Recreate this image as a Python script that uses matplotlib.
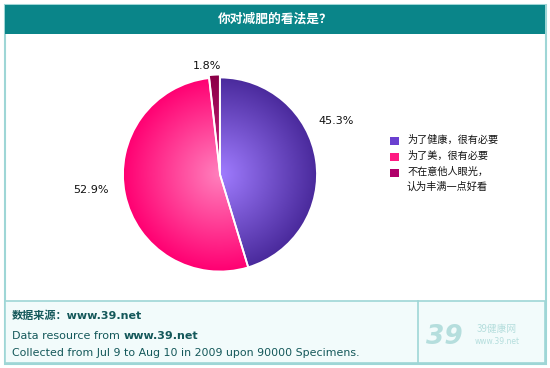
import numpy as np
import matplotlib
matplotlib.use("Agg")
import matplotlib.pyplot as plt
from matplotlib.patches import Rectangle
from matplotlib.colors import LinearSegmentedColormap

title = "你对减肥的看法是？"
categories = ["为了健康，很有必要", "为了美，很有必要", "不在意他人眼光，\n认为丰满一点好看"]
values = [45.3, 52.9, 1.8]
value_labels = ["45.3%", "52.9%", "1.8%"]
footer_lines = ["数据来源：www.39.net", "Data resource from ", "www.39.net",
                "Collected from Jul 9 to Aug 10 in 2009 upon 90000 Specimens."]

inner_cols = ["#a07cff", "#ff80bd", "#d0207f"]
outer_cols = ["#4a2a9c", "#ff0072", "#8c0048"]
legend_cols = ["#6a40d0", "#ff1a82", "#b0006a"]

W, H = 550, 368
fig = plt.figure(figsize=(W / 100, H / 100), dpi=100)
fam = ["Noto Sans CJK SC", "DejaVu Sans"]
plt.rcParams["font.family"] = fam

# overlay axes in pixel coords
ov = fig.add_axes([0, 0, 1, 1])
ov.set_xlim(0, W)
ov.set_ylim(H, 0)
ov.axis("off")

border = "#9ed6d6"
ov.add_patch(Rectangle((4.5, 4.5), 541, 359, facecolor="white", edgecolor=border, lw=1.5, zorder=0))
ov.add_patch(Rectangle((5, 5), 540, 29, facecolor="#0a8589", edgecolor="none", zorder=1))
ov.add_patch(Rectangle((5, 301), 540, 62, facecolor="#f2fbfb", edgecolor=border, lw=1.2, zorder=1))
ov.plot([418, 418], [301, 363], color=border, lw=1.2, zorder=2)
ov.text(275, 19.5, title, color="white", fontsize=9.2, fontweight="bold",
        ha="center", va="center", zorder=3)

# legend
leg_y = [141, 157, 173]
for c, lab, y in zip(legend_cols, categories, leg_y):
    ov.add_patch(Rectangle((390, y - 4.5), 8.5, 8.5, facecolor=c, edgecolor="none", zorder=3))
    ov.text(407, y - 6.5, lab, fontsize=7.3, color="#111111", ha="left", va="top",
            linespacing=1.55, zorder=3)

# footer
tc = "#14585a"
ov.text(12, 316, footer_lines[0], fontsize=8, fontweight="bold", color=tc,
        ha="left", va="center", family=["DejaVu Sans", "Noto Sans CJK SC"], zorder=3)
ov.text(12, 336, footer_lines[1], fontsize=8, color=tc, ha="left", va="center",
        family="DejaVu Sans", zorder=3)
ov.text(124, 336, footer_lines[2], fontsize=8, fontweight="bold", color=tc, ha="left",
        va="center", family="DejaVu Sans", zorder=3)
ov.text(12, 353, footer_lines[3], fontsize=7.9, color=tc, ha="left", va="center",
        family="DejaVu Sans", zorder=3)

# logo
lc = "#b5dedd"
ov.text(426, 337, "39", fontsize=19, fontweight="bold", fontstyle="italic", color=lc,
        ha="left", va="center", family="DejaVu Sans", zorder=3)
ov.text(497, 329, "39健康网", fontsize=7, color=lc, ha="center", va="center", zorder=3)
ov.text(497, 342, "www.39.net", fontsize=5.5, color=lc, ha="center", va="center",
        family="DejaVu Sans", zorder=3)

# pie
cx, cy, r = 220, 174.5, 97
half = 112
ax = fig.add_axes([(cx - half) / W, 1 - (cy + half) / H, 2 * half / W, 2 * half / H])
ax.set_aspect("equal")
ax.axis("off")
explode = [0, 0, 0.03]
wedges, _ = ax.pie(values, startangle=90, counterclock=False, explode=explode,
                   colors=outer_cols, radius=1,
                   wedgeprops=dict(edgecolor="white", linewidth=1.3))
lim = half / r
ax.set_xlim(-lim, lim)
ax.set_ylim(-lim, lim)

n = 300
xs = np.linspace(-lim, lim, n)
X, Y = np.meshgrid(xs, xs)
R = np.sqrt(X ** 2 + Y ** 2)
for w, ci, co in zip(wedges, inner_cols, outer_cols):
    cm = LinearSegmentedColormap.from_list("g", [ci, co])
    im = ax.imshow(np.clip(R, 0, 1), cmap=cm, vmin=0, vmax=1, extent=[-lim, lim, -lim, lim],
                   origin="lower", zorder=w.get_zorder() - 0.1, interpolation="bilinear")
    im.set_clip_path(w)
    w.set_facecolor("none")

# value labels
lab_pos = [(336, 121), (91, 190), (207, 66)]
for s, (x, y) in zip(value_labels, lab_pos):
    ov.text(x, y, s, fontsize=8, color="#111111", ha="center", va="center",
            family="DejaVu Sans", zorder=3)

fig.savefig("out.png", dpi=100)
